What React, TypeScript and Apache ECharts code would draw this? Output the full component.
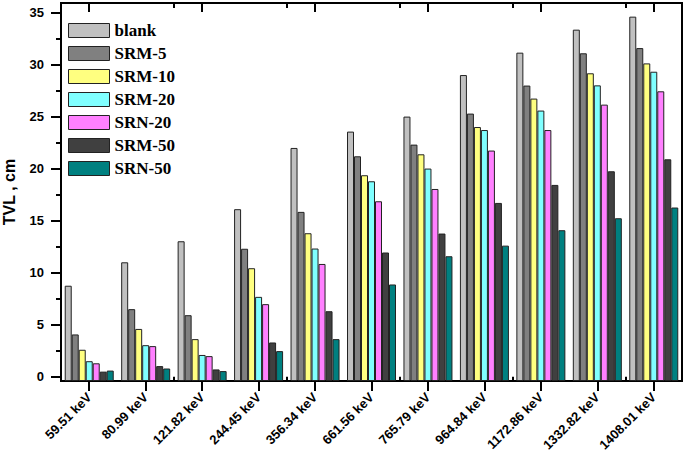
import React, { useEffect, useRef } from "react";
import * as echarts from "echarts";

const categories = ["59.51 keV", "80.99 keV", "121.82 keV", "244.45 keV", "356.34 keV", "661.56 keV", "765.79 keV", "964.84 keV", "1172.86 keV", "1332.82 keV", "1408.01 keV"];
const seriesNames = ["blank", "SRM-5", "SRM-10", "SRM-20", "SRN-20", "SRM-50", "SRN-50"];
const blank = [8.75, 11.0, 13.02, 16.1, 21.98, 23.55, 24.99, 28.98, 31.13, 33.34, 34.59];
const srm5 = [4.07, 6.5, 5.92, 12.3, 15.84, 21.18, 22.3, 25.28, 27.97, 31.07, 31.57];
const srm10 = [2.6, 4.6, 3.62, 10.43, 13.79, 19.36, 21.37, 23.99, 26.72, 29.15, 30.1];
const srm20 = [1.5, 3.04, 2.1, 7.68, 12.32, 18.78, 20.0, 23.7, 25.57, 27.99, 29.3];
const srn20 = [1.3, 2.95, 1.99, 6.98, 10.84, 16.86, 18.04, 21.73, 23.7, 26.14, 27.42];
const srm50 = [0.5, 1.03, 0.71, 3.3, 6.3, 11.94, 13.76, 16.7, 18.43, 19.74, 20.89];
const srn50 = [0.6, 0.8, 0.55, 2.47, 3.62, 8.87, 11.58, 12.6, 14.08, 15.23, 16.26];
const seriesData = [blank, srm5, srm10, srm20, srn20, srm50, srn50];
const colors = ["#C0C0C0", "#808080", "#FFFF80", "#80FFFF", "#FF80FF", "#404040", "#008080"];
const yMajorTicks = [0, 5, 10, 15, 20, 25, 30, 35];
const yMinorTicks = [2.5, 7.5, 12.5, 17.5, 22.5, 27.5, 32.5];

const mkLine = () => ({ show: true, onZero: false, lineStyle: { color: "#000", width: 2 } });
const mkTick = (len: number, inside: boolean, extra: any = {}) => ({
  show: true,
  inside,
  length: len,
  lineStyle: { color: "#000", width: 2 },
  ...extra,
});

export default function App() {
  const ref = useRef<HTMLDivElement>(null);
  useEffect(() => {
    if (!ref.current) return;
    const chart = echarts.init(ref.current, null, { renderer: "svg" });
    const gridPos = { left: 61, right: 3, top: 3, bottom: 86 };
    const yMin = -0.4;
    const yMax = 35.9;
    const font = { color: "#000", fontFamily: "Liberation Sans", fontWeight: "bold", fontSize: 13 };
    chart.setOption({
      animation: false,
      title: { text: " ", left: 0, top: 0, textStyle: { fontSize: 8 } },
      grid: [
        { ...gridPos, show: true, borderColor: "#000", borderWidth: 2, backgroundColor: "transparent", outerBoundsMode: "none" },
        { ...gridPos, outerBoundsMode: "none" },
      ],
      legend: {
        orient: "vertical",
        left: 63,
        top: 17,
        icon: "rect",
        itemWidth: 41,
        itemHeight: 14,
        itemGap: 6,
        data: seriesNames,
        itemStyle: { borderColor: "#222", borderWidth: 1 },
        textStyle: {
          fontFamily: "Liberation Serif",
          fontWeight: "bold",
          fontSize: 17,
          lineHeight: 17,
          color: "#000",
        },
      },
      xAxis: [
        {
          type: "category",
          gridIndex: 0,
          position: "bottom",
          data: categories,
          axisLine: mkLine(),
          axisTick: mkTick(10, false, { alignWithLabel: true }),
          axisLabel: { rotate: 45, margin: 14, interval: 0, ...font },
          splitLine: { show: false },
        },
        {
          type: "category",
          gridIndex: 0,
          position: "top",
          data: categories,
          axisLine: mkLine(),
          axisTick: mkTick(9, true, { alignWithLabel: true }),
          axisLabel: { show: false },
          splitLine: { show: false },
        },
        {
          type: "category",
          gridIndex: 1,
          position: "bottom",
          data: categories,
          axisLine: { show: false },
          axisTick: mkTick(5, false),
          axisLabel: { show: false },
          splitLine: { show: false },
        },
        {
          type: "category",
          gridIndex: 1,
          position: "top",
          data: categories,
          axisLine: { show: false },
          axisTick: mkTick(5, true),
          axisLabel: { show: false },
          splitLine: { show: false },
        },
      ],
      yAxis: [
        {
          type: "value",
          gridIndex: 0,
          position: "left",
          min: yMin,
          max: yMax,
          startValue: yMin,
          name: "TVL , cm",
          nameLocation: "middle",
          nameGap: 44,
          nameTextStyle: { ...font, fontSize: 16 },
          axisLine: mkLine(),
          axisTick: mkTick(10, false, { customValues: yMajorTicks }),
          axisLabel: { customValues: yMajorTicks, margin: 17, ...font },
          splitLine: { show: false },
        },
        {
          type: "value",
          gridIndex: 0,
          position: "right",
          min: yMin,
          max: yMax,
          axisLine: mkLine(),
          axisTick: { show: false },
          axisLabel: { show: false },
          splitLine: { show: false },
        },
        {
          type: "value",
          gridIndex: 1,
          position: "left",
          min: yMin,
          max: yMax,
          axisLine: { show: false },
          axisTick: mkTick(5, false, { customValues: yMinorTicks }),
          axisLabel: { show: false },
          splitLine: { show: false },
        },
      ],
      series: seriesNames.map((name, i) => ({
        name,
        type: "bar",
        xAxisIndex: 0,
        yAxisIndex: 0,
        data: seriesData[i],
        barWidth: 7,
        barGap: "0%",
        itemStyle: { color: colors[i], borderColor: "#222", borderWidth: 1 },
      })),
    });
    return () => chart.dispose();
  }, []);
  return <div ref={ref} style={{ width: 685, height: 467, position: "absolute", left: 0, top: 0 }} />;
}
